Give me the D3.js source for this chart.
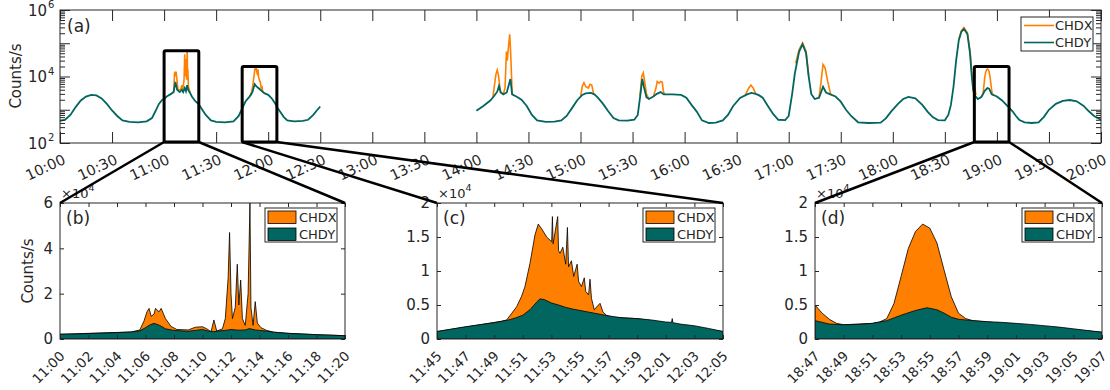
<!DOCTYPE html>
<html>
<head>
<meta charset="utf-8">
<script src="https://cdn.jsdelivr.net/npm/d3@7"></script>
<style>
body { margin: 0; background: #fff; }
text { font-family: "DejaVu Sans", sans-serif; fill: #262626; }
.tick line, .frame { stroke: #262626; }
</style>
</head>
<body>
<div id="chart"></div>
<script>
// ---- data (times are minutes after the panel start, values in counts/s) ----
var seriesNames = ["CHDX", "CHDY"];

// panel (a), CHDY, 10:00 - 12:30 and 14:00 - 20:00
var topChdyA = [[0,460],[3,500],[6,700],[9,1200],[12,1900],[15,2500],[18,2800],[21,2700],[24,2200],[27,1500],[30,950],[33,650],[36,480],[40,430],[45,420],[50,450],[53,560],[55,900],[57,1500],[59,2000],[60,2100],[62,2600],[64,3000],[65.5,3400],[66.5,6900],[67.5,4000],[69,3400],[70.3,4000],[71,3400],[71.9,4500],[72.6,3600],[73.3,5500],[74,3800],[75,3200],[76,2500],[78,1800],[80,1450],[82,1000],[84,700],[87,480],[90,430],[95,420],[100,450],[103,650],[105,1100],[107,1800],[109,2400],[110,2800],[111,3500],[112.2,5900],[113,5250],[114,4650],[115,4200],[116,3780],[117,3400],[118,3100],[120,2800],[122,2200],[124,1550],[125,1200],[127,850],[129,600],[131,480],[135,450],[140,460],[143,500],[146,700],[148,950],[150,1250]];
var topChdyB = [[240,930],[244,1300],[248,1900],[250,2500],[252,3500],[253,5200],[254,3300],[255.5,2900],[257.5,3300],[259.6,8400],[260.6,2900],[263,2500],[266,2000],[269,1300],[272,700],[275,480],[280,430],[285,440],[289,480],[292,650],[295,1100],[298,1900],[301,2800],[303,3100],[306,3200],[308,2900],[310,2300],[313,1500],[316,900],[319,560],[322,480],[327,470],[331,500],[333,700],[334.5,2800],[335.6,8400],[336.5,5000],[338,2400],[339.5,2100],[342,2500],[344,3000],[346.2,3400],[348,2900],[353,2900],[358,2800],[361,2300],[364,1400],[367,880],[370,480],[374,400],[378,410],[382,480],[385,700],[388,1300],[392,2260],[396,2900],[398.5,3200],[401,3000],[403,2700],[405,2300],[408,1300],[411,750],[414,500],[418,490],[420,650],[422,3000],[423.5,12000],[426,56000],[428,93000],[430,50000],[431.5,10000],[433,3000],[435,2100],[437.5,2300],[439.8,4900],[441.5,3300],[444,2900],[447,2500],[450,1750],[453,1000],[456,650],[460,420],[466,400],[473,410],[476,550],[479,880],[483,1500],[486,2100],[489,2440],[493,2200],[497,1400],[500,880],[503,600],[506,490],[510,480],[512,700],[513.5,1400],[515,5000],[516.5,30000],[518,120000],[519.5,220000],[521,270000],[523,190000],[524.5,50000],[525.5,10000],[526.3,4000],[527,2800],[529,2100],[531,2400],[533,3700],[534.5,4500],[535.5,4300],[537,2900],[540,2500],[543,1900],[546,1300],[549,900],[551,650],[553,490],[556,420],[560,400],[564,420],[567,600],[570,1000],[574,1500],[578,1850],[582,1960],[586,1800],[590,1300],[593,900],[596,650],[600,500]];
// panel (a), CHDX where it rises above CHDY
var topChdxFlares = [
  [[64,3000],[65.5,3400],[66,12000],[66.3,14000],[66.6,10000],[66.9,14000],[67.3,9000],[68,4000],[69.5,4000],[70.3,5500],[70.8,4000],[71.5,8000],[71.9,47000],[72.1,10000],[72.4,33000],[72.6,12000],[72.7,27000],[73,8000],[73.3,60000],[73.5,12000],[73.7,16500],[74,5000],[75,3200]],
  [[109.5,2600],[110.5,3500],[111,5000],[111.5,7700],[111.9,11000],[112.2,15300],[112.4,16900],[112.8,16200],[113.1,18000],[113.4,14300],[113.6,12600],[114,11000],[114.1,16400],[114.5,9200],[115,7700],[115.5,6500],[116,4300],[116.4,5250],[116.8,3500],[117.3,3200]],
  [[249.5,2400],[250.5,6000],[251.3,12000],[252,15700],[252.7,11000],[253.3,6000],[254,3300],[255.5,3000],[256.5,4500],[257.3,56000],[257.8,30000],[258.5,80000],[259.2,186000],[259.7,60000],[260.3,9000],[260.6,2900]],
  [[300,2400],[301,5000],[302,6500],[303,5000],[304.5,4500],[305.5,5800],[306.5,5500],[307.5,3100]],
  [[334.3,2600],[335.3,10000],[336.2,12800],[337,7000],[338,3000],[339.5,2100]],
  [[342,2500],[343.5,4500],[344.2,7100],[345.3,6300],[346.2,7100],[347.1,6800],[347.8,3500],[348.5,2900]],
  [[395,2800],[397,4500],[398.2,5550],[399.5,4500],[401,3000]],
  [[424,25000],[426,65000],[428,102000],[430,58000],[431.5,11000]],
  [[437.5,2300],[438.5,6000],[439.8,23000],[441,18000],[442.5,7000],[444.2,2900]],
  [[518,130000],[519.5,240000],[521,295000],[523,205000],[524.5,60000],[525.5,14000],[526.5,6500],[527,5000],[528,2800]],
  [[531,2400],[532,3000],[532.5,5200],[533,9200],[533.5,13300],[534,15800],[534.5,16900],[535,16300],[535.5,14100],[536,10100],[536.5,6200],[537,3800],[537.5,3000],[538,2700]]
];

// panel (b) 11:00 - 11:20
var bChdx = [[0,2100],[5,3100],[5.6,4000],[5.9,8000],[6.1,12000],[6.25,13500],[6.4,10000],[6.6,11000],[6.7,13500],[6.95,12000],[7.1,13500],[7.4,9000],[7.8,5500],[8.2,4200],[9,4000],[9.5,5200],[10,5400],[10.3,4500],[10.6,3200],[10.8,8400],[11,3500],[11.4,4500],[11.6,9000],[11.8,27000],[11.9,47000],[12.0,20000],[12.1,9000],[12.3,14000],[12.44,33000],[12.55,15000],[12.68,26000],[12.8,9000],[13.0,6000],[13.2,20000],[13.33,60000],[13.4,14000],[13.55,6000],[13.7,16500],[13.85,7000],[14.1,5000],[14.5,3800],[15,3000],[16,2500],[18,1900],[20,1450]];
var bChdy = [[0,2100],[1,2200],[2,2400],[3,2600],[4,2800],[5,3100],[5.6,3600],[6,5000],[6.3,6200],[6.6,6900],[7,6000],[7.4,4500],[8,3800],[9,3400],[9.5,3800],[10,4200],[10.4,3500],[10.8,3200],[11.2,3600],[11.6,3800],[12,4200],[12.5,3900],[13,4000],[13.3,4600],[13.7,4000],[14,3800],[14.5,3500],[15,3000],[16,2500],[17,2200],[18,1900],[19,1700],[20,1450]];
// panel (c) 11:45 - 12:05
var cChdx = [[0,1100],[4.5,2600],[4.87,2800],[5.2,3700],[5.57,4750],[5.9,6200],[6.15,7700],[6.5,11100],[6.85,15300],[7.08,16900],[7.32,16200],[7.67,15000],[8.02,14300],[8.07,18000],[8.12,14000],[8.44,18000],[8.5,13000],[8.6,12600],[8.8,13500],[9.0,11000],[9.12,16400],[9.2,10600],[9.4,11500],[9.56,9200],[9.8,11000],[9.9,8500],[10.1,7700],[10.3,9000],[10.4,7000],[10.6,6500],[10.7,8800],[10.8,6000],[11,4300],[11.2,4800],[11.4,5250],[11.6,4000],[11.84,3500],[12.3,3200],[14,3000],[20,1100]];
var cChdy = [[0,1100],[1,1450],[2,1800],[3,2100],[4,2400],[5,2800],[5.5,3100],[6,3500],[6.5,4300],[7,5500],[7.2,5900],[7.5,5800],[8,5300],[8.5,5000],[9,4650],[9.5,4400],[10,4200],[10.5,4000],[11,3800],[11.5,3600],[12,3400],[13,3100],[14,3000],[15,2800],[16,2500],[16.4,2450],[16.45,3000],[16.5,2400],[17,2200],[18,1950],[19,1550],[20,1100]];
// panel (d) 18:47 - 19:07
var dChdx = [[0,5000],[0.5,3800],[1,2900],[1.5,2300],[2,2100],[4,2300],[4.5,2500],[5,3000],[5.5,5200],[6,9200],[6.5,13300],[7,15800],[7.5,16900],[8,16300],[8.5,14100],[9,10100],[9.5,6200],[10,3800],[10.5,3000],[11,2700],[20,1000]];
var dChdy = [[0,2700],[1,2200],[2,2100],[3,2150],[4,2300],[5,2700],[6,3500],[7,4200],[7.8,4600],[8.5,4300],[9,3800],[9.5,3200],[10,2900],[11,2700],[12,2550],[13,2450],[14,2300],[15,2150],[16,1950],[17,1750],[18,1500],[19,1250],[20,1000]];

var zoomLabels = ["(b)", "(c)", "(d)"];
var zoomStarts = ["11:00", "11:45", "18:47"];
var zoomMax = [60000, 20000, 20000];
var zoomTickValues = [[0, 20000, 40000, 60000], [0, 5000, 10000, 15000, 20000], [0, 5000, 10000, 15000, 20000]];
var zoomTickLabels = [["0", "2", "4", "6"], ["0", "0.5", "1", "1.5", "2"], ["0", "0.5", "1", "1.5", "2"]];
var zoomTickMinutes = [0, 2, 4, 6, 8, 10, 12, 14, 16, 18, 20];

var orange = "#ff8000", teal = "#00665f";

// ---- helpers ----
function hm(s) { var p = s.split(":"); return new Date(2000, 0, 1, +p[0], +p[1]); }
function at(start, m) { return new Date(hm(start).getTime() + m * 60000); }

var svg = d3.select("#chart").append("svg").attr("width", 1110).attr("height", 390);

// ---- panel (a) ----
var A = { x0: 60, x1: 1101, y0: 10, y1: 143 };
var xTop = d3.scaleTime().domain([hm("10:00"), hm("20:00")]).range([A.x0, A.x1]);
var yTop = d3.scaleLog().domain([1e2, 1e6]).range([A.y1, A.y0]);

svg.append("clipPath").attr("id", "clipA").append("rect")
   .attr("x", A.x0).attr("y", A.y0).attr("width", A.x1 - A.x0).attr("height", A.y1 - A.y0);

var topLine = d3.line().x(d => xTop(at("10:00", d[0]))).y(d => yTop(d[1]));
var plotA = svg.append("g").attr("clip-path", "url(#clipA)");
plotA.selectAll(".flare").data(topChdxFlares).enter().append("path")
     .attr("d", topLine).attr("fill", "none").attr("stroke", orange).attr("stroke-width", 1.6);
plotA.selectAll(".chdy").data([topChdyA, topChdyB]).enter().append("path")
     .attr("d", topLine).attr("fill", "none").attr("stroke", teal).attr("stroke-width", 1.8);

// x axes (inward ticks, bottom and top)
var xTicks = d3.timeMinute.every(30);
svg.append("g").attr("transform", "translate(0," + A.y1 + ")")
   .call(d3.axisBottom(xTop).ticks(xTicks).tickSizeInner(-11).tickSizeOuter(0).tickFormat(d3.timeFormat("%H:%M")))
   .call(g => g.select(".domain").remove())
   .call(g => g.selectAll("text").attr("y", 0).attr("dy", 0).attr("font-size", 14.5)
               .attr("text-anchor", "end").attr("transform", "translate(6,20) rotate(-25)"));
svg.append("g").attr("transform", "translate(0," + A.y0 + ")")
   .call(d3.axisTop(xTop).ticks(xTicks).tickSizeInner(-11).tickSizeOuter(0).tickFormat(""))
   .call(g => g.select(".domain").remove());

// log y axes, left and right
var decades = [1e2, 1e3, 1e4, 1e5, 1e6];
var minors = [];
decades.slice(0, 4).forEach(function (d) { for (var k = 2; k <= 9; k++) minors.push(d * k); });
[[d3.axisLeft, A.x0], [d3.axisRight, A.x1]].forEach(function (s) {
  svg.append("g").attr("transform", "translate(" + s[1] + ",0)")
     .call(s[0](yTop).tickValues(decades).tickSizeInner(-10).tickSizeOuter(0).tickFormat(""))
     .call(g => g.select(".domain").remove());
  svg.append("g").attr("transform", "translate(" + s[1] + ",0)")
     .call(s[0](yTop).tickValues(minors).tickSizeInner(-5).tickSizeOuter(0).tickFormat(""))
     .call(g => g.select(".domain").remove());
});
[1e2, 1e4, 1e6].forEach(function (v) {
  svg.append("text").attr("x", A.x0 - 13).attr("y", yTop(v) + 5.5)
     .attr("text-anchor", "end").attr("font-size", 15).text("10");
  svg.append("text").attr("x", A.x0 - 12).attr("y", yTop(v) - 2).attr("font-size", 10)
     .text(String(Math.round(Math.log10(v))));
});
svg.append("rect").attr("class", "frame").attr("x", A.x0).attr("y", A.y0)
   .attr("width", A.x1 - A.x0).attr("height", A.y1 - A.y0).attr("fill", "none");
svg.append("text").attr("transform", "translate(21,76) rotate(-90)").attr("text-anchor", "middle")
   .attr("font-size", 15).text("Counts/s");
svg.append("text").attr("x", 67).attr("y", 32).attr("font-size", 17).text("(a)");

// legend (a)
var legA = svg.append("g");
legA.append("rect").attr("x", 1021).attr("y", 17).attr("width", 72).attr("height", 34)
    .attr("fill", "#fff").attr("stroke", "#262626");
seriesNames.forEach(function (n, i) {
  var yy = 25.5 + i * 17;
  legA.append("line").attr("x1", 1024).attr("x2", 1054).attr("y1", yy).attr("y2", yy)
      .attr("stroke", i ? teal : orange).attr("stroke-width", 1.6);
  legA.append("text").attr("x", 1055).attr("y", yy + 4.5).attr("font-size", 13).text(n);
});

// ---- zoom panels (b), (c), (d) ----
var zoomX = [[60, 345], [437, 723], [815, 1102]];
var Z = { y0: 203, y1: 339 };
var zoomData = [[bChdx, bChdy], [cChdx, cChdy], [dChdx, dChdy]];
var connectors = [];

zoomStarts.forEach(function (st, i) {
  var x0 = zoomX[i][0], x1 = zoomX[i][1];
  var xs = d3.scaleTime().domain([hm(st), at(st, 20)]).range([x0, x1]);
  var ys = d3.scaleLinear().domain([0, zoomMax[i]]).range([Z.y1, Z.y0]);
  var cid = "clipZ" + i;
  svg.append("clipPath").attr("id", cid).append("rect")
     .attr("x", x0).attr("y", Z.y0).attr("width", x1 - x0).attr("height", Z.y1 - Z.y0);
  var area = d3.area().x(d => xs(at(st, d[0]))).y0(ys(0)).y1(d => ys(d[1]));
  var g = svg.append("g").attr("clip-path", "url(#" + cid + ")");
  zoomData[i].forEach(function (ser, k) {
    g.append("path").attr("d", area(ser)).attr("fill", k ? teal : orange)
     .attr("stroke", "#000").attr("stroke-width", 0.8);
  });

  var tv = zoomTickMinutes.map(m => at(st, m));
  svg.append("g").attr("transform", "translate(0," + Z.y1 + ")")
     .call(d3.axisBottom(xs).tickValues(tv).tickSizeInner(-4).tickSizeOuter(0).tickFormat(d3.timeFormat("%H:%M")))
     .call(g => g.select(".domain").remove())
     .call(g => g.selectAll("text").attr("y", 0).attr("dy", 0).attr("font-size", 13.5)
                 .attr("text-anchor", "end").attr("transform", "translate(5,18) rotate(-45)"));
  svg.append("g").attr("transform", "translate(0," + Z.y0 + ")")
     .call(d3.axisTop(xs).tickValues(tv).tickSizeInner(-4).tickSizeOuter(0).tickFormat(""))
     .call(g => g.select(".domain").remove());
  svg.append("g").attr("transform", "translate(" + x0 + ",0)")
     .call(d3.axisLeft(ys).tickValues(zoomTickValues[i]).tickSizeInner(-4).tickSizeOuter(0)
             .tickFormat((d, j) => zoomTickLabels[i][j]))
     .call(g => g.select(".domain").remove())
     .call(g => g.selectAll("text").attr("x", -7).attr("font-size", 15));
  svg.append("g").attr("transform", "translate(" + x1 + ",0)")
     .call(d3.axisRight(ys).tickValues(zoomTickValues[i]).tickSizeInner(-4).tickSizeOuter(0).tickFormat(""))
     .call(g => g.select(".domain").remove());
  svg.append("rect").attr("class", "frame").attr("x", x0).attr("y", Z.y0)
     .attr("width", x1 - x0).attr("height", Z.y1 - Z.y0).attr("fill", "none");

  // exponent label
  var ex = svg.append("text").attr("x", x0 + 1).attr("y", 198).attr("font-size", 13);
  ex.append("tspan").text("\u00d710");
  ex.append("tspan").attr("dy", -7).attr("font-size", 9.5).text("4");

  svg.append("text").attr("x", x0 + 6).attr("y", 224).attr("font-size", 17).text(zoomLabels[i]);

  // legend
  var lx = x1 - 80;
  var leg = svg.append("g");
  leg.append("rect").attr("x", lx).attr("y", 208).attr("width", 72).attr("height", 34)
     .attr("fill", "#fff").attr("stroke", "#262626");
  seriesNames.forEach(function (n, k) {
    var yy = 211 + k * 17;
    leg.append("rect").attr("x", lx + 3).attr("y", yy).attr("width", 28).attr("height", 12.5)
       .attr("fill", k ? teal : orange).attr("stroke", "#000").attr("stroke-width", 0.8);
    leg.append("text").attr("x", lx + 34).attr("y", yy + 11).attr("font-size", 13).text(n);
  });

  // zoom box in panel (a) and its connectors
  var bx0 = xTop(hm(st)), bx1 = xTop(at(st, 20));
  var by0 = yTop(zoomMax[i]), by1 = A.y1 - 1;
  connectors.push({ box: [bx0, by0, bx1, by1], panel: [x0, x1] });
});

svg.append("text").attr("transform", "translate(33,271) rotate(-90)").attr("text-anchor", "middle")
   .attr("font-size", 15).text("Counts/s");

connectors.forEach(function (c) {
  svg.append("rect").attr("x", c.box[0]).attr("y", c.box[1])
     .attr("width", c.box[2] - c.box[0]).attr("height", c.box[3] - c.box[1])
     .attr("fill", "none").attr("stroke", "#000").attr("stroke-width", 3).attr("rx", 1.5);
  svg.append("line").attr("x1", c.box[0]).attr("y1", c.box[3]).attr("x2", c.panel[0]).attr("y2", Z.y0)
     .attr("stroke", "#000").attr("stroke-width", 2.5);
  svg.append("line").attr("x1", c.box[2]).attr("y1", c.box[3]).attr("x2", c.panel[1]).attr("y2", Z.y0)
     .attr("stroke", "#000").attr("stroke-width", 2.5);
});
</script>
</body>
</html>
